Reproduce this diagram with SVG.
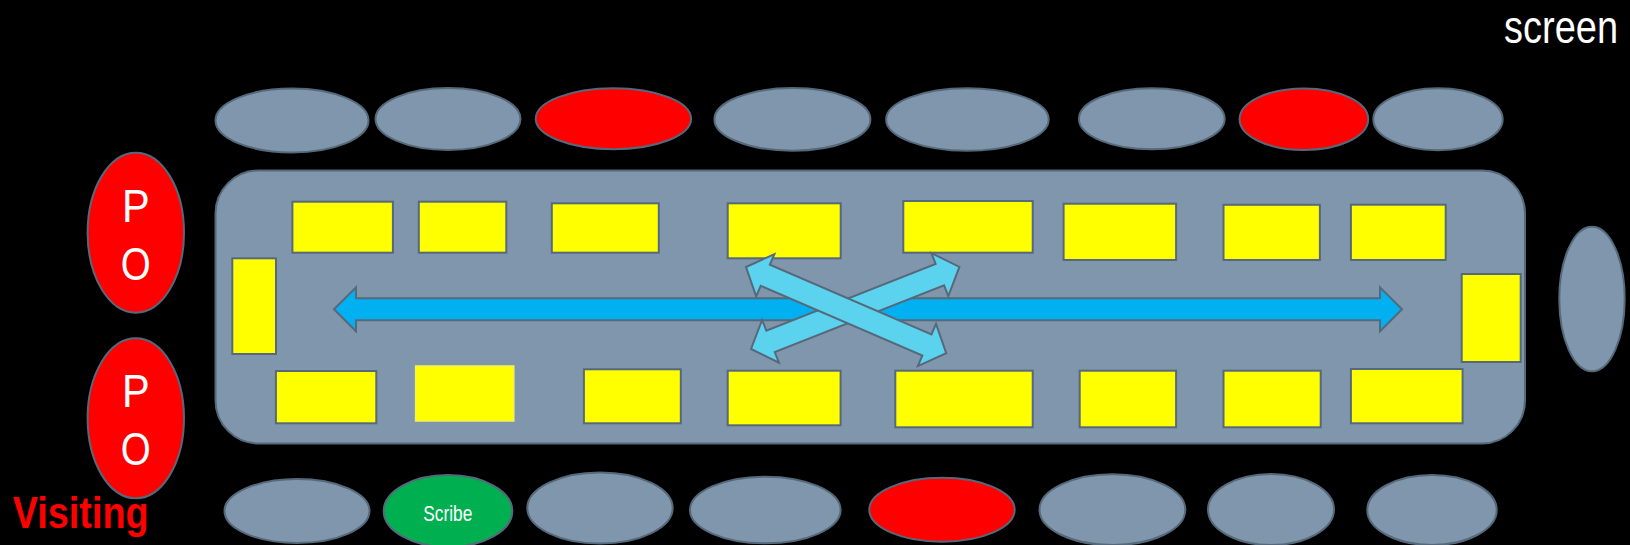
<svg xmlns="http://www.w3.org/2000/svg" width="1630" height="545" viewBox="0 0 1630 545">
<style>
.seat{fill:#7F96AC;stroke:#56697B;stroke-width:2}
.red{fill:#FF0000;stroke:#56697B;stroke-width:2}
.green{fill:#00B050;stroke:#56697B;stroke-width:2}
.desk{fill:#FFFF00;stroke:#56697B;stroke-width:2}
.t{font-family:"Liberation Sans",Arial,sans-serif;fill:#FFFFFF}
.arrowMain{fill:#00B0F0;stroke:#56697B;stroke-width:2;stroke-linejoin:miter}
.arrowX{fill:#5BD3EF;stroke:#56697B;stroke-width:2;stroke-linejoin:miter}
</style>
<rect x="0" y="0" width="1630" height="545" fill="#000000"/>
<text id="screen" class="t" x="0" y="0" font-size="46" transform="translate(1504,43) scale(0.826,1)">screen</text>

<g id="table"><rect x="215.5" y="170.5" width="1309.5" height="273" rx="43" ry="43" class="seat"/></g>

<g id="top-seats">
<g id="t1"><ellipse cx="292" cy="120.5" rx="76.5" ry="32" class="seat"/></g>
<g id="t2"><ellipse cx="448" cy="119" rx="72.5" ry="31" class="seat"/></g>
<g id="t3"><ellipse cx="613.4" cy="118.7" rx="77.7" ry="30.5" class="red"/></g>
<g id="t4"><ellipse cx="792.4" cy="119.4" rx="78" ry="31.3" class="seat"/></g>
<g id="t5"><ellipse cx="967.4" cy="119.5" rx="81.3" ry="31.2" class="seat"/></g>
<g id="t6"><ellipse cx="1151.8" cy="118.8" rx="72.9" ry="30.5" class="seat"/></g>
<g id="t7"><ellipse cx="1303.9" cy="119.2" rx="64.3" ry="30.8" class="red"/></g>
<g id="t8"><ellipse cx="1438" cy="119.2" rx="64.7" ry="31" class="seat"/></g>
</g>

<g id="right-seat"><ellipse cx="1592" cy="299" rx="32.7" ry="72.3" class="seat"/></g>

<g id="po1"><ellipse cx="135.8" cy="232.7" rx="48.2" ry="80" class="red"/>
<text class="t" x="135.8" y="222.3" font-size="47" text-anchor="middle" textLength="27.7" lengthAdjust="spacingAndGlyphs">P</text>
<text class="t" x="135.8" y="279.5" font-size="47" text-anchor="middle" textLength="30" lengthAdjust="spacingAndGlyphs">O</text></g>
<g id="po2"><ellipse cx="135.8" cy="418.3" rx="48.2" ry="80" class="red"/>
<text class="t" x="135.8" y="407.3" font-size="47" text-anchor="middle" textLength="27.7" lengthAdjust="spacingAndGlyphs">P</text>
<text class="t" x="135.8" y="464.5" font-size="47" text-anchor="middle" textLength="30" lengthAdjust="spacingAndGlyphs">O</text></g>

<text id="visiting" x="12.7" y="528.3" font-size="45" font-weight="bold" fill="#FF0000" font-family="'Liberation Sans',Arial,sans-serif" textLength="136" lengthAdjust="spacingAndGlyphs">Visiting</text>

<g id="bottom-seats">
<g id="b1"><ellipse cx="297" cy="511" rx="72.5" ry="32" class="seat"/></g>
<g id="b2"><ellipse cx="448" cy="511" rx="64.3" ry="36" class="green"/>
<text class="t" x="423.3" y="520.7" font-size="22" textLength="49" lengthAdjust="spacingAndGlyphs">Scribe</text></g>
<g id="b3"><ellipse cx="600" cy="508" rx="72.7" ry="35.5" class="seat"/></g>
<g id="b4"><ellipse cx="765.3" cy="510" rx="75.3" ry="33.3" class="seat"/></g>
<g id="b5"><ellipse cx="942" cy="509.7" rx="72.7" ry="32" class="red"/></g>
<g id="b6"><ellipse cx="1112.4" cy="509.7" rx="72.9" ry="35.4" class="seat"/></g>
<g id="b7"><ellipse cx="1271" cy="509.5" rx="63" ry="35.5" class="seat"/></g>
<g id="b8"><ellipse cx="1432" cy="510" rx="64.7" ry="35" class="seat"/></g>
</g>

<g id="desks">
<g id="d-top1"><rect x="292.4" y="201.7" width="100.5" height="51" class="desk"/></g>
<g id="d-top2"><rect x="418.8" y="201.7" width="87.5" height="51" class="desk"/></g>
<g id="d-top3"><rect x="551.8" y="203.3" width="107" height="49.4" class="desk"/></g>
<g id="d-top4"><rect x="727.7" y="203.3" width="113" height="55" class="desk"/></g>
<g id="d-top5"><rect x="903.3" y="201" width="129.4" height="51.7" class="desk"/></g>
<g id="d-top6"><rect x="1063.6" y="203.7" width="112.5" height="56.3" class="desk"/></g>
<g id="d-top7"><rect x="1223.5" y="204.8" width="96.4" height="55.2" class="desk"/></g>
<g id="d-top8"><rect x="1350.9" y="204.7" width="94.8" height="55.3" class="desk"/></g>
<g id="d-left"><rect x="232.3" y="258.3" width="43.7" height="95.7" class="desk"/></g>
<g id="d-right"><rect x="1461.7" y="274" width="59" height="88" class="desk"/></g>
<g id="d-bot1"><rect x="275.9" y="371" width="100.4" height="52.3" class="desk"/></g>
<g id="d-bot2"><rect x="415.6" y="366" width="98.2" height="55" fill="#FFFF00" stroke="#F2F25A" stroke-width="1.5"/></g>
<g id="d-bot3"><rect x="583.9" y="369.3" width="96.9" height="54" class="desk"/></g>
<g id="d-bot4"><rect x="727.7" y="370.7" width="112.9" height="54.6" class="desk"/></g>
<g id="d-bot5"><rect x="895.3" y="370.7" width="137.4" height="56.6" class="desk"/></g>
<g id="d-bot6"><rect x="1079.7" y="370.7" width="96.4" height="56.6" class="desk"/></g>
<g id="d-bot7"><rect x="1223.5" y="370.7" width="97.2" height="56.6" class="desk"/></g>
<g id="d-bot8"><rect x="1350.9" y="369" width="111.7" height="54.3" class="desk"/></g>
</g>

<g id="connectors">
<polygon class="arrowMain" transform="translate(334,309.3)" points="0,0 22,-22 22,-11 1046,-11 1046,-22 1068,0 1046,22 1046,11 22,11 22,22"/>
<polygon class="arrowX" transform="translate(751,349) rotate(-21.5)" points="0,0 21,-23 21,-11.5 203,-11.5 203,-23 224,0 203,23 203,11.5 21,11.5 21,23"/>
<polygon class="arrowX" transform="translate(746,267) rotate(23.3)" points="0,0 21,-23 21,-11.5 197,-11.5 197,-23 218,0 197,23 197,11.5 21,11.5 21,23"/>
</g>
</svg>
